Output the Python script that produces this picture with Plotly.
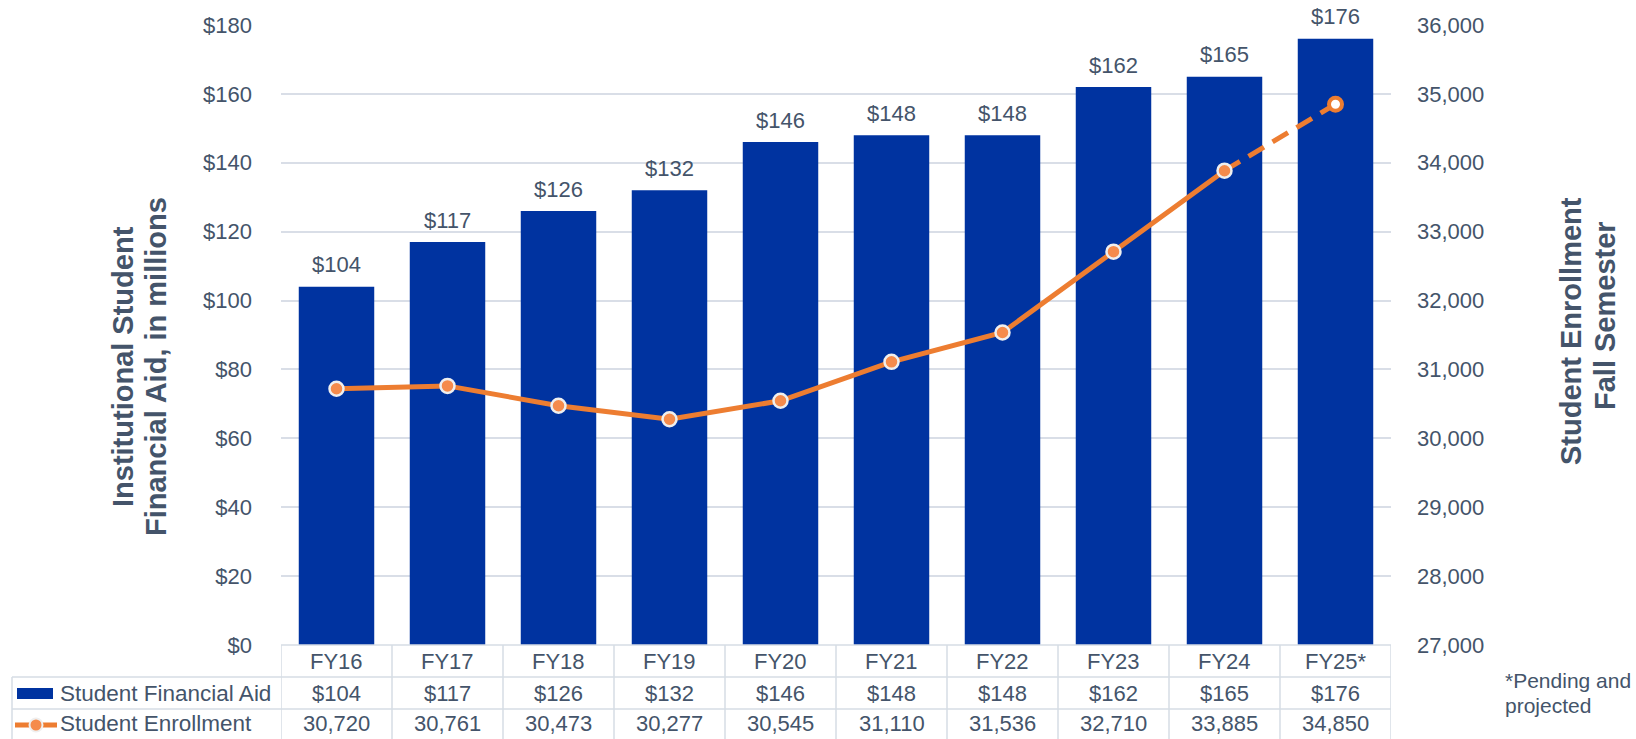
import plotly.graph_objects as go

# ---- data ----
categories = ["FY16", "FY17", "FY18", "FY19", "FY20", "FY21", "FY22", "FY23", "FY24", "FY25*"]
aid_millions = [104, 117, 126, 132, 146, 148, 148, 162, 165, 176]
enrollment = [30720, 30761, 30473, 30277, 30545, 31110, 31536, 32710, 33885, 34850]
left_tick_vals = [0, 20, 40, 60, 80, 100, 120, 140, 160, 180]
right_tick_vals = [27000, 28000, 29000, 30000, 31000, 32000, 33000, 34000, 35000, 36000]
series_names = ["Student Financial Aid", "Student Enrollment"]
footnote = ["*Pending and", "projected"]

# ---- style / layout constants ----
W, H = 1636, 739
X0, X1 = 281, 1391          # plot area left/right (px)
Y_TOP, Y_ZERO = 25, 645     # plot area top / zero line (px)
ROW2, ROW3, ROW_END = 677, 709, 739
LEG_X = 12
FONT = "Liberation Sans, Arial, sans-serif"
TXT = "#44546A"
BAR = "#0033A0"
ORANGE = "#ED7D31"
MARK = "#F58B4C"
GRID = "#D9DEE7"
TBL = "#D6DCE4"
FS = 22


def px(p):
    return p / W


def py(p):
    return 1 - p / H


fig = go.Figure()

fig.add_trace(go.Bar(
    x=categories, y=aid_millions, marker=dict(color=BAR, line=dict(width=0)),
    name=series_names[0], showlegend=False, hoverinfo="skip"))

# dashed projected segment
fig.add_trace(go.Scatter(
    x=categories[8:], y=enrollment[8:], yaxis="y2", mode="lines",
    line=dict(color=ORANGE, width=5, dash="18px,10px"),
    showlegend=False, hoverinfo="skip"))

# solid actual segment
fig.add_trace(go.Scatter(
    x=categories[:9], y=enrollment[:9], yaxis="y2", mode="lines+markers",
    line=dict(color=ORANGE, width=5),
    marker=dict(size=14, color=MARK, line=dict(color="#EFEFEF", width=2.5)),
    name=series_names[1], showlegend=False, hoverinfo="skip"))

# projected marker
fig.add_trace(go.Scatter(
    x=categories[9:], y=enrollment[9:], yaxis="y2", mode="markers",
    marker=dict(size=13, color="white", line=dict(color=ORANGE, width=4)),
    showlegend=False, hoverinfo="skip", cliponaxis=False))

annotations = []
# bar value labels
for c, v in zip(categories, aid_millions):
    annotations.append(dict(
        x=c, y=v, xref="x", yref="y", text=f"${v}", showarrow=False,
        yanchor="middle", yshift=22, font=dict(size=FS, color=TXT, family=FONT)))

# table
hdr_y = py((Y_ZERO + ROW2) / 2)
r2_y = py((ROW2 + ROW3) / 2)
r3_y = py((ROW3 + ROW_END) / 2 - 0.5)
for c, a, e in zip(categories, aid_millions, enrollment):
    annotations.append(dict(x=c, y=hdr_y, xref="x", yref="paper", text=c, showarrow=False,
                            yanchor="middle", font=dict(size=FS, color=TXT, family=FONT)))
    annotations.append(dict(x=c, y=r2_y, xref="x", yref="paper", text=f"${a}", showarrow=False,
                            yanchor="middle", font=dict(size=FS, color=TXT, family=FONT)))
    annotations.append(dict(x=c, y=r3_y, xref="x", yref="paper", text=f"{e:,}", showarrow=False,
                            yanchor="middle", font=dict(size=FS, color=TXT, family=FONT)))

annotations.append(dict(x=px(58), y=r2_y, xref="paper", yref="paper", text=series_names[0],
                        showarrow=False, xanchor="left", yanchor="middle",
                        font=dict(size=FS + 0.5, color=TXT, family=FONT)))
annotations.append(dict(x=px(58), y=r3_y, xref="paper", yref="paper", text=series_names[1],
                        showarrow=False, xanchor="left", yanchor="middle",
                        font=dict(size=FS + 0.5, color=TXT, family=FONT)))

# axis titles
for txt, xx, yy in [("Institutional Student", 123, 367), ("Financial Aid, in millions", 156, 367),
                    ("Student Enrollment", 1571, 331), ("Fall Semester", 1605, 316)]:
    annotations.append(dict(x=px(xx), y=py(yy), xref="paper", yref="paper", text=f"<b>{txt}</b>",
                            showarrow=False, textangle=-90, xanchor="center", yanchor="middle",
                            font=dict(size=29, color=TXT, family=FONT)))

# footnote
for i, t in enumerate(footnote):
    annotations.append(dict(x=px(1503), y=py(680 + 25 * i), xref="paper", yref="paper", text=t,
                            showarrow=False, xanchor="left", yanchor="middle",
                            font=dict(size=21, color=TXT, family=FONT)))

shapes = []
lw = 1.5
# horizontal table lines
shapes.append(dict(type="line", xref="x", yref="paper", x0=-0.5, x1=9.5,
                   y0=py(Y_ZERO), y1=py(Y_ZERO), line=dict(color=TBL, width=lw)))
for yy in (ROW2, ROW3):
    shapes.append(dict(type="line", xref="paper", yref="paper", x0=px(LEG_X), x1=px(X1),
                       y0=py(yy), y1=py(yy), line=dict(color=TBL, width=lw)))
# vertical table lines
shapes.append(dict(type="line", xref="paper", yref="paper", x0=px(LEG_X), x1=px(LEG_X),
                   y0=py(ROW2), y1=0, line=dict(color=TBL, width=lw)))
for i in range(len(categories) + 1):
    shapes.append(dict(type="line", xref="x", yref="paper", x0=i - 0.5, x1=i - 0.5,
                       y0=py(Y_ZERO), y1=0, line=dict(color=TBL, width=lw)))
# legend swatches
shapes.append(dict(type="rect", xref="paper", yref="paper", x0=px(17), x1=px(53),
                   y0=py(699), y1=py(688), fillcolor=BAR, line=dict(width=0)))
shapes.append(dict(type="line", xref="paper", yref="paper", x0=px(15), x1=px(57),
                   y0=py(725), y1=py(725), line=dict(color=ORANGE, width=5)))
shapes.append(dict(type="circle", xref="paper", yref="paper", x0=px(29.5), x1=px(42.5),
                   y0=py(731.5), y1=py(718.5), fillcolor=MARK, line=dict(color="#EFEFEF", width=2)))

fig.update_layout(
    width=W, height=H, margin=dict(l=0, r=0, t=0, b=0),
    paper_bgcolor="white", plot_bgcolor="white",
    bargap=0.32, showlegend=False,
    font=dict(family=FONT, color=TXT, size=FS),
    xaxis=dict(domain=[px(X0), px(X1)], type="category", range=[-0.5, 9.5],
               showticklabels=False, showgrid=False, zeroline=False, showline=False,
               ticks="", automargin=False),
    yaxis=dict(domain=[py(Y_ZERO), py(Y_TOP)], range=[0, 180], tickvals=left_tick_vals,
               ticktext=[f"${v}" for v in left_tick_vals], showgrid=True, gridcolor=GRID,
               gridwidth=1.5, zeroline=False, showline=False, ticks="",
               ticklabelstandoff=28, tickfont=dict(size=FS, color=TXT, family=FONT),
               automargin=False),
    yaxis2=dict(overlaying="y", side="right", range=[27000, 36000], tickvals=right_tick_vals,
                tickformat=",", showgrid=False, zeroline=False, showline=False, ticks="",
                ticklabelstandoff=25, tickfont=dict(size=FS, color=TXT, family=FONT),
                automargin=False),
    annotations=annotations, shapes=shapes,
)

fig.write_html(
    "out.html",
    config={"displayModeBar": False},
    post_script="document.body.style.margin='0';document.body.style.overflow='hidden';",
)
